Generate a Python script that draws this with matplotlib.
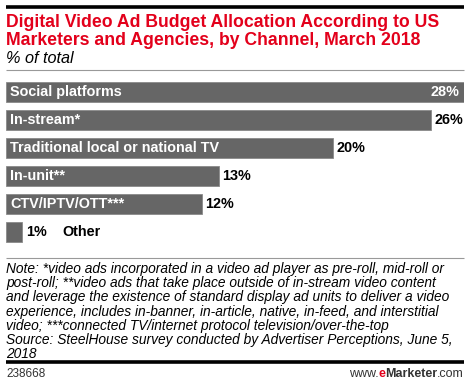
import matplotlib
matplotlib.use("Agg")
import matplotlib.pyplot as plt
from matplotlib.lines import Line2D

categories = ["Social platforms", "In-stream*", "Traditional local or national TV",
              "In-unit**", "CTV/IPTV/OTT***", "Other"]
values = [28, 26, 20, 13, 12, 1]
title_lines = ["Digital Video Ad Budget Allocation According to US",
               "Marketers and Agencies, by Channel, March 2018"]
subtitle = "% of total"
note_lines = [
    "Note: *video ads incorporated in a video ad player as pre-roll, mid-roll or",
    "post-roll; **video ads that take place outside of in-stream video content",
    "and leverage the existence of standard display ad units to deliver a video",
    "experience, includes in-banner, in-article, native, in-feed, and interstitial",
    "video; ***connected TV/internet protocol television/over-the-top",
    "Source: SteelHouse survey conducted by Advertiser Perceptions, June 5,",
    "2018",
]
chart_id = "238668"

W, H = 470, 385
fig = plt.figure(figsize=(W / 100, H / 100), dpi=100)
FONT = "Liberation Sans"

def fx(px):
    return px / W

def fy(py):
    return 1 - py / H

def hline(py, x0, x1, lw, color):
    fig.add_artist(Line2D([fx(x0), fx(x1)], [fy(py), fy(py)], lw=lw, color=color,
                          transform=fig.transFigure, solid_capstyle="butt"))

hline(7, 6, 464, 2.6, "#000000")
for k, tl in enumerate(title_lines):
    fig.text(fx(6), fy(27 + 18 * k), tl, color="#e3001b", fontsize=12.7, fontweight="bold",
             family=FONT, va="baseline", ha="left")
fig.text(fx(6), fy(63), subtitle, color="#000000", fontsize=11.7, style="italic",
         family=FONT, va="baseline", ha="left")
hline(69.5, 6, 464, 0.8, "#999999")

# bars
ax = fig.add_axes([fx(6), fy(246), fx(458), (246 - 78) / H])
ypos = list(range(len(values)))
ax.barh(ypos, values, height=20 / 28, color="#666666", edgecolor="#8a8a8a", linewidth=0.6)
ax.set_xlim(0, 28)
ax.set_ylim(len(values) - 0.5, -0.5)
ax.axis("off")
px = 28 / 458
LS = 10.4
for i, (c, v) in enumerate(zip(categories, values)):
    if c == "Other":
        ax.text(v + 4 * px, i, "1%", color="black", fontsize=LS, fontweight="bold",
                family=FONT, va="center", ha="left")
        ax.text(v + 40 * px, i, c, color="black", fontsize=LS, fontweight="bold",
                family=FONT, va="center", ha="left")
        continue
    ax.text(4 * px, i, c, color="white", fontsize=LS, fontweight="bold",
            family=FONT, va="center", ha="left")
    if i == 0:
        ax.text(v - 5 * px, i, f"{v}%", color="white", fontsize=LS, fontweight="bold",
                family=FONT, va="center", ha="right")
    else:
        ax.text(v + 3 * px, i, f"{v}%", color="black", fontsize=LS, fontweight="bold",
                family=FONT, va="center", ha="left")

hline(258, 6, 464, 0.8, "#999999")
y0 = 273
for k, ln in enumerate(note_lines):
    fig.text(fx(6), fy(y0 + k * 14.2), ln, fontsize=9.9, style="italic", family=FONT,
             va="baseline", ha="left", color="#000000")
hline(362, 6, 464, 2.6, "#000000")
fig.text(fx(6), fy(377), chart_id, fontsize=8.5, family=FONT, va="baseline", ha="left", color="#333333")
# eMarketer logo text
FS = 9
t1 = fig.text(fx(340), fy(377), "www.", fontsize=FS, family=FONT, va="baseline", ha="left", color="#333333")
fig.canvas.draw()
r = fig.canvas.get_renderer()
bb = t1.get_window_extent(r)
t2 = fig.text(bb.x1 / W, fy(377), "e", fontsize=FS, family=FONT, fontweight="bold",
              va="baseline", ha="left", color="#e3001b")
bb2 = t2.get_window_extent(r)
t3 = fig.text(bb2.x1 / W, fy(377), "Marketer", fontsize=FS, family=FONT, fontweight="bold",
              va="baseline", ha="left", color="#333333")
bb3 = t3.get_window_extent(r)
t4 = fig.text(bb3.x1 / W, fy(377), ".com", fontsize=FS, family=FONT,
              va="baseline", ha="left", color="#333333")
bb4 = t4.get_window_extent(r)
shift = (464 - bb4.x1) / W
for t in (t1, t2, t3, t4):
    x, y = t.get_position()
    t.set_position((x + shift, y))

fig.savefig("out.png", dpi=100)
